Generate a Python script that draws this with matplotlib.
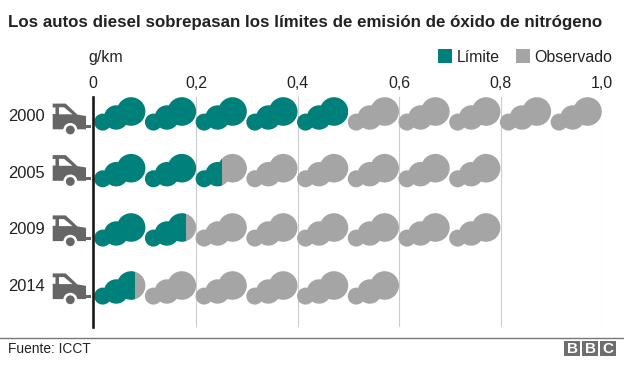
import matplotlib
matplotlib.use("Agg")
import matplotlib.pyplot as plt
from matplotlib.patches import Circle, Rectangle, Polygon
from matplotlib.transforms import ScaledTranslation

plt.rcParams['font.family'] = ['Liberation Sans', 'DejaVu Sans']

# ---- data ----
years = ['2000', '2005', '2009', '2014']
limit = [0.5, 0.25, 0.18, 0.08]
observed = [1.0, 0.8, 0.8, 0.6]
xticks = [0, 0.2, 0.4, 0.6, 0.8, 1.0]
xticklabels = ['0', '0,2', '0,4', '0,6', '0,8', '1,0']
unit_per_cloud = 0.1

TEAL = '#00807b'
GREY = '#a5a5a5'
ICON = '#666666'
TEXT = '#222222'

W, H = 624, 366
fig = plt.figure(figsize=(W / 100, H / 100), dpi=100, facecolor='white')

L, R, T, B = 92.7, 602.0, 97.0, 327.0
PX = 507.0  # pixels per g/km
ax = fig.add_axes([L / W, 1 - B / H, (R - L) / W, (B - T) / H])
ax.set_xlim(-(94.9 - L) / PX, 1.0)
ROW_TOP = 111.5 - T
ax.set_ylim((B - T - ROW_TOP) / PX, -ROW_TOP / PX)

# layout: vertical offsets of each row's parts, in pixels
cloud_off = [0, 56.7, 116, 174]
car_off = [0, 51.5, 111.8, 169.8]
label_off = [0, 57, 113, 170]


def px(v):
    return v / PX


ax.set_xticks(xticks)
ax.set_xticklabels(xticklabels, fontsize=11.4, color=TEXT)
ax.set_yticks([])
ax.xaxis.tick_top()
ax.tick_params(axis='x', length=0, pad=4.4)
ax.grid(axis='x', color='#cccccc', lw=0.8, zorder=0)
ax.xaxis.get_gridlines()[0].set_visible(False)
ax.set_axisbelow(True)
for s in ('top', 'right', 'bottom'):
    ax.spines[s].set_visible(False)
ax.spines['left'].set_color('#1a1a1a')
ax.spines['left'].set_linewidth(1.9)
ax.spines['left'].set_zorder(6)
lbl0 = ax.get_xticklabels()[0]
lbl0.set_transform(lbl0.get_transform() + ScaledTranslation(-2 / 100, 0, fig.dpi_scale_trans))

# one cloud: (x offset, y offset, radius) in pixels
puffs = [(7.8, 10.6, 8.5), (21.3, 6.0, 12.2), (36.2, 0.0, 14.3)]

for year, lim, obs, c_off, k_off, l_off in zip(years, limit, observed, cloud_off, car_off, label_off):
    y = px(c_off)
    n = int(round(obs / unit_per_cloud))
    top, height = y - px(30), px(60)
    clip_t = Rectangle((-0.1, top), 0.1 + lim, height, transform=ax.transData)
    clip_g = Rectangle((lim, top), 2, height, transform=ax.transData)
    for i in range(n):
        x0 = i * unit_per_cloud
        for dx, dy, r in puffs:
            for col, clip in ((GREY, clip_g), (TEAL, clip_t)):
                if col == TEAL and x0 >= lim:
                    continue
                if col == GREY and x0 + unit_per_cloud <= lim:
                    continue
                c = Circle((x0 + px(dx), y + px(dy)), px(r), fc=col, ec='none', zorder=3)
                ax.add_patch(c)
                c.set_clip_path(clip)

    # year label
    ax.text(px(45.2 - 94.9), px(l_off + 5.0), year, ha='right', va='center',
            fontsize=11.9, color=TEXT, clip_on=False)

    # car icon, pixel offsets on this row
    def P(x, yy):
        return (px(x - 94.9), px(k_off + yy - 111.5))
    body = [P(52.7, 103.6), P(65.7, 103.6), P(77.3, 114.6), P(86, 116), P(86, 129.3),
            P(52.7, 129.3), P(52.7, 114), P(55.5, 114), P(55.5, 107.5), P(52.7, 107.5)]
    ax.add_patch(Polygon(body, closed=True, fc=ICON, ec='none', zorder=3, clip_on=False))
    window = [P(59, 107.3), P(64, 107.3), P(72.5, 114.3), P(59, 114.3)]
    ax.add_patch(Polygon(window, closed=True, fc='white', ec='none', zorder=4, clip_on=False))
    x1, y1 = P(86, 125)
    ax.add_patch(Rectangle((x1, y1), px(5), px(3), fc=ICON, ec='none', zorder=3, clip_on=False))
    wc = P(70.3, 130)
    ax.add_patch(Circle(wc, px(7), fc='white', ec='none', zorder=4, clip_on=False))
    ax.add_patch(Circle(wc, px(4.4), fc=ICON, ec='none', zorder=5, clip_on=False))


def ftext(x, y, s, **kw):
    return fig.text(x / W, 1 - y / H, s, **kw)


def frect(x0, y0, x1, y1, col):
    fig.add_artist(Rectangle((x0 / W, 1 - y1 / H), (x1 - x0) / W, (y1 - y0) / H,
                             transform=fig.transFigure, fc=col, ec='none'))


ftext(7.5, 22, 'Los autos diesel sobrepasan los límites de emisión de óxido de nitrógeno',
      fontsize=12.2, fontweight='bold', color=TEXT, va='center', ha='left')
ftext(88.5, 57.5, 'g/km', fontsize=11.4, color=TEXT, va='center', ha='left')

# legend
frect(438, 48.7, 452, 62.7, TEAL)
ftext(457, 57, 'Límite', fontsize=11.4, color=TEXT, va='center', ha='left')
frect(516, 48.7, 530, 62.7, GREY)
ftext(534.5, 57, 'Observado', fontsize=11.4, color=TEXT, va='center', ha='left')

# footer
fig.add_artist(plt.Line2D([0, 1], [1 - 337.5 / H] * 2, color='#777777', lw=1.0))
ftext(7.5, 349.2, 'Fuente: ICCT', fontsize=9.9, color=TEXT, va='center', ha='left')
for x0, letter in zip((564, 582, 600), 'BBC'):
    frect(x0, 341, x0 + 16, 356, '#6e6e6e')
    ftext(x0 + 8, 349, letter, fontsize=11, fontweight='bold', color='white',
          va='center', ha='center')

fig.savefig('out.png', dpi=100, facecolor='white')
